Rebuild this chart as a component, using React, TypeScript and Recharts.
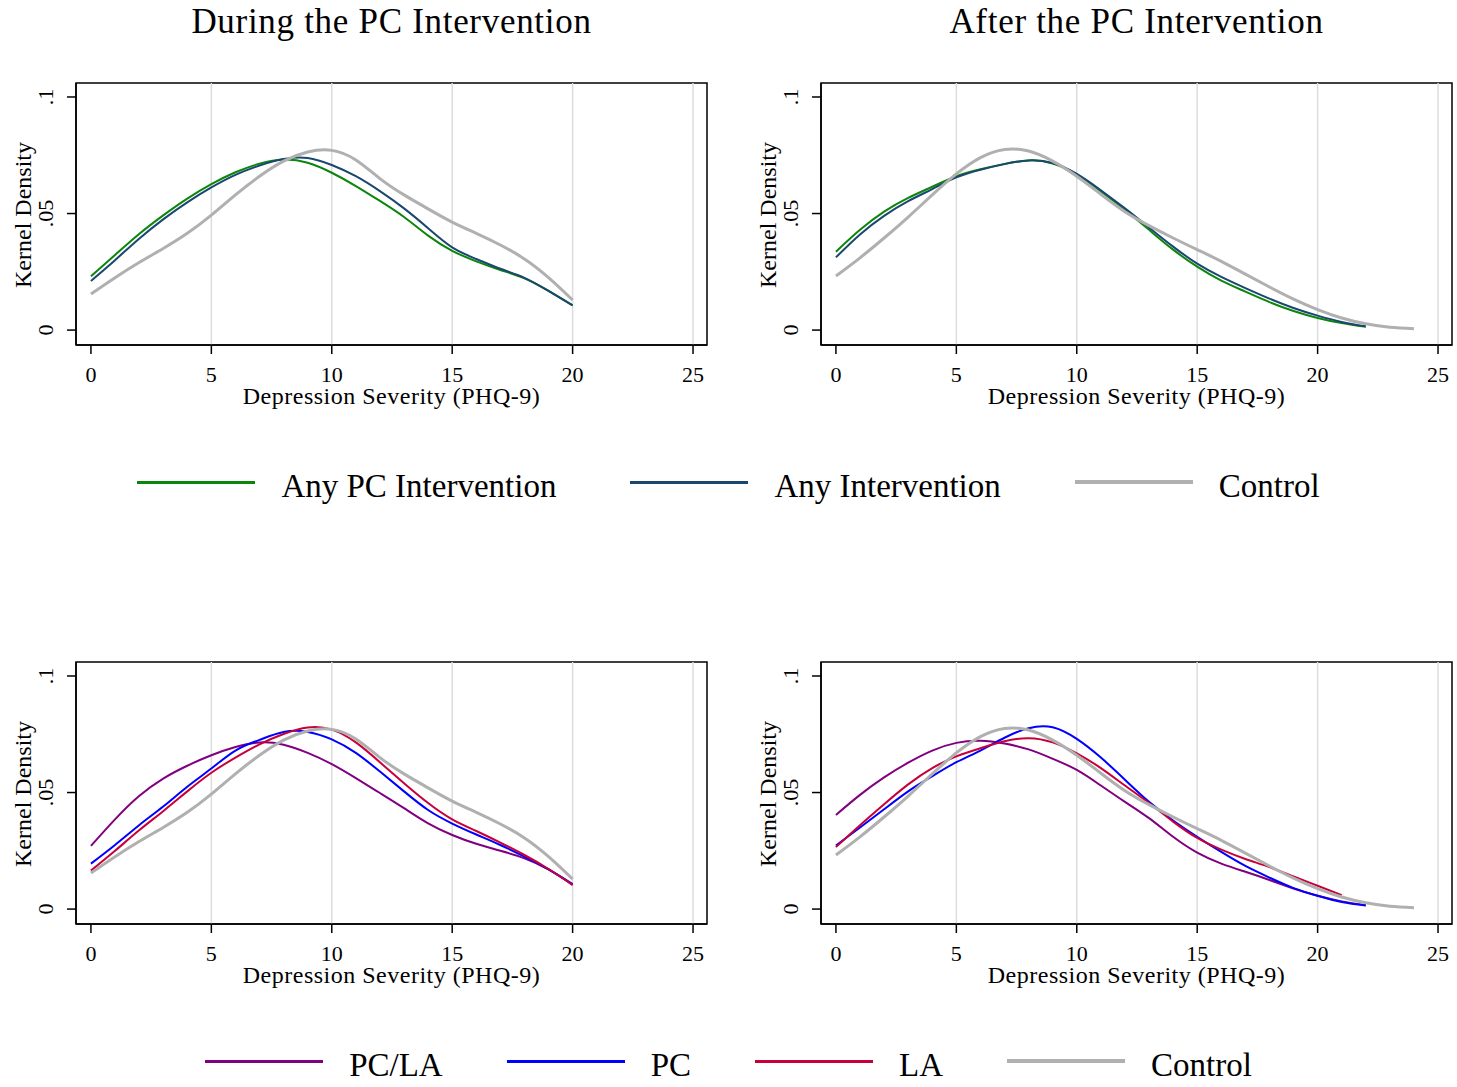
import React from 'react';
import { LineChart, Line, XAxis, YAxis, ReferenceLine, ReferenceArea } from 'recharts';

// PHQ-9 score grid the densities were read on
const severity = [0, 1, 2, 3, 4, 5, 6, 7, 8, 9, 10, 11, 12, 13, 14, 15, 16, 17, 18, 19, 20, 21, 22, 23, 24];

// During the PC intervention
const anyPcDuring = [0.0231, 0.0322, 0.0412, 0.0492, 0.0564, 0.0626, 0.0677, 0.0714, 0.0732, 0.0718, 0.0675, 0.0618, 0.0554, 0.0485, 0.0405, 0.034, 0.0295, 0.0258, 0.0222, 0.0168, 0.0106];
const anyDuring = [0.0211, 0.03, 0.0392, 0.0475, 0.0548, 0.0612, 0.0666, 0.0706, 0.0734, 0.0738, 0.0708, 0.066, 0.0596, 0.0522, 0.0437, 0.0355, 0.0305, 0.0263, 0.0224, 0.0168, 0.0106];
const controlDuring = [0.0155, 0.0225, 0.029, 0.035, 0.0415, 0.0493, 0.058, 0.066, 0.0725, 0.0764, 0.0771, 0.073, 0.065, 0.058, 0.052, 0.0463, 0.0415, 0.0365, 0.0305, 0.0225, 0.0129];
const pcLaDuring = [0.0271, 0.0385, 0.0485, 0.056, 0.0615, 0.066, 0.0695, 0.0715, 0.0705, 0.067, 0.0622, 0.0562, 0.0498, 0.0433, 0.0368, 0.0318, 0.028, 0.025, 0.0218, 0.017, 0.0104];
const pcDuring = [0.0195, 0.0275, 0.036, 0.044, 0.0525, 0.0603, 0.068, 0.0726, 0.076, 0.076, 0.0728, 0.067, 0.059, 0.0505, 0.0425, 0.0367, 0.032, 0.0275, 0.0225, 0.017, 0.0107];
const laDuring = [0.0165, 0.025, 0.0338, 0.042, 0.0505, 0.0585, 0.065, 0.0707, 0.0751, 0.0779, 0.077, 0.0715, 0.063, 0.054, 0.0455, 0.0385, 0.0335, 0.0285, 0.0232, 0.0172, 0.0104];

// After the PC intervention
const anyPcAfter = [0.0336, 0.043, 0.0508, 0.0567, 0.0615, 0.066, 0.069, 0.0713, 0.0728, 0.0715, 0.0668, 0.0595, 0.0515, 0.043, 0.0345, 0.0272, 0.0212, 0.0165, 0.012, 0.0082, 0.0052, 0.003, 0.0014];
const anyAfter = [0.0312, 0.041, 0.049, 0.0553, 0.0605, 0.0655, 0.0688, 0.0712, 0.0728, 0.0717, 0.067, 0.06, 0.0522, 0.044, 0.0358, 0.0285, 0.0228, 0.018, 0.0135, 0.0095, 0.0062, 0.0035, 0.0016];
const controlAfter = [0.0232, 0.031, 0.0395, 0.0485, 0.058, 0.067, 0.074, 0.0775, 0.0768, 0.0725, 0.066, 0.0583, 0.0508, 0.0448, 0.0395, 0.0345, 0.0295, 0.024, 0.0185, 0.0133, 0.0088, 0.0052, 0.0027, 0.0012, 0.0006];
const pcLaAfter = [0.0404, 0.049, 0.0565, 0.0628, 0.068, 0.0713, 0.0722, 0.071, 0.0685, 0.0645, 0.0597, 0.053, 0.046, 0.039, 0.031, 0.0242, 0.0195, 0.016, 0.0125, 0.0088, 0.0057, 0.0033, 0.0016];
const pcAfter = [0.0273, 0.035, 0.0428, 0.0505, 0.057, 0.063, 0.068, 0.0735, 0.0776, 0.078, 0.073, 0.065, 0.0555, 0.046, 0.038, 0.031, 0.0245, 0.0185, 0.0135, 0.009, 0.0057, 0.003, 0.0015];
const laAfter = [0.0266, 0.036, 0.045, 0.0535, 0.0605, 0.0655, 0.069, 0.072, 0.0733, 0.0715, 0.0668, 0.0605, 0.053, 0.0455, 0.0375, 0.0305, 0.0255, 0.0215, 0.018, 0.014, 0.01, 0.006];

const xTicks = [0, 5, 10, 15, 20, 25];
const gridTicks = [5, 10, 15, 20, 25];
const yTicks = [0, 0.05, 0.1];
const titles = ['During the PC Intervention', 'After the PC Intervention'];

const FONT = '"Liberation Serif", "Times New Roman", serif';
const X_DOMAIN: [number, number] = [-0.62, 25.58];
const Y_DOMAIN: [number, number] = [-0.0064, 0.106];

const C = {
  anyPc: '#0b860b',
  any: '#1a476f',
  control: '#b0b0b0',
  pcLa: '#800080',
  pc: '#0000ff',
  la: '#c8003a',
};

type Series = { key: string; label: string; values: number[]; color: string; width: number };

const topLegend = [
  { label: 'Any PC Intervention', color: C.anyPc, width: 3 },
  { label: 'Any Intervention', color: C.any, width: 3 },
  { label: 'Control', color: C.control, width: 4 },
];
const bottomLegend = [
  { label: 'PC/LA', color: C.pcLa, width: 3 },
  { label: 'PC', color: C.pc, width: 3 },
  { label: 'LA', color: C.la, width: 3 },
  { label: 'Control', color: C.control, width: 4 },
];

const fmtY = (v: number) => String(v).replace(/^0\./, '.');

const YTick = (props: any) => {
  const { x, y, payload } = props;
  return (
    <text x={x} y={y} transform={`rotate(-90 ${x} ${y})`} textAnchor="middle" fill="#000" fontSize={22} fontFamily={FONT}>
      {fmtY(payload.value)}
    </text>
  );
};

const XLabel = (props: any) => {
  const vb = props.viewBox;
  return (
    <text x={vb.x + vb.width / 2} y={vb.y + 59} textAnchor="middle" fill="#000" fontSize={24} fontFamily={FONT} style={{ letterSpacing: 0.5 }}>
      Depression Severity (PHQ-9)
    </text>
  );
};

const YLabel = (props: any) => {
  const vb = props.viewBox;
  const x = vb.x + 31;
  const y = vb.y + vb.height / 2 + 1;
  return (
    <text x={x} y={y} transform={`rotate(-90 ${x} ${y})`} textAnchor="middle" fill="#000" fontSize={24} fontFamily={FONT}>
      Kernel Density
    </text>
  );
};

function Panel({ left, top, width, marginRight, series }: { left: number; top: number; width: number; marginRight: number; series: Series[] }) {
  const rows = severity.map((x, i) => {
    const row: any = { x };
    series.forEach((s) => {
      if (i < s.values.length) row[s.key] = s.values[i];
    });
    return row;
  });
  return (
    <div style={{ position: 'absolute', left, top }}>
      <LineChart width={width} height={420} data={rows} margin={{ top: 83, right: marginRight, bottom: 13, left: 0 }}>
        <XAxis
          type="number"
          dataKey="x"
          domain={X_DOMAIN}
          ticks={xTicks}
          allowDataOverflow
          height={62}
          tickSize={9}
          tickMargin={12}
          tick={{ fill: '#000', fontSize: 22, fontFamily: FONT }}
          axisLine={{ stroke: '#000', strokeWidth: 1.5 }}
          tickLine={{ stroke: '#000', strokeWidth: 1.5 }}
          label={{ content: XLabel }}
        />
        <YAxis
          type="number"
          domain={Y_DOMAIN}
          ticks={yTicks}
          allowDataOverflow
          width={76}
          tickSize={9}
          tickMargin={14}
          tick={YTick}
          axisLine={{ stroke: '#000', strokeWidth: 1.5 }}
          tickLine={{ stroke: '#000', strokeWidth: 1.5 }}
          label={{ content: YLabel }}
        />
        {gridTicks.map((v) => (
          <ReferenceLine key={v} x={v} stroke="#dcdcdc" strokeWidth={1.5} />
        ))}
        <ReferenceArea x1={X_DOMAIN[0]} x2={X_DOMAIN[1]} y1={Y_DOMAIN[0]} y2={Y_DOMAIN[1]} fill="none" fillOpacity={0} stroke="#000" strokeWidth={1.5} />
        {series.map((s) => (
          <Line key={s.key} dataKey={s.key} name={s.label} type="natural" stroke={s.color} strokeWidth={s.width} dot={false} isAnimationActive={false} />
        ))}
      </LineChart>
    </div>
  );
}

function Legend({ top, gap, items }: { top: number; gap: number; items: { label: string; color: string; width: number }[] }) {
  return (
    <div style={{ position: 'absolute', left: 0, top, width: 1457, display: 'flex', justifyContent: 'center', gap, fontFamily: FONT, fontSize: 33, lineHeight: '40px' }}>
      {items.map((it) => (
        <div key={it.label} style={{ display: 'flex', alignItems: 'center' }}>
          <div style={{ width: 118, height: it.width, background: it.color, position: 'relative', top: -4, marginRight: 26 }} />
          <span>{it.label}</span>
        </div>
      ))}
    </div>
  );
}

export default function App() {
  const topDuring: Series[] = [
    { key: 'anyPc', label: 'Any PC Intervention', values: anyPcDuring, color: C.anyPc, width: 2 },
    { key: 'any', label: 'Any Intervention', values: anyDuring, color: C.any, width: 2 },
    { key: 'control', label: 'Control', values: controlDuring, color: C.control, width: 3 },
  ];
  const topAfter: Series[] = [
    { key: 'anyPc', label: 'Any PC Intervention', values: anyPcAfter, color: C.anyPc, width: 2 },
    { key: 'any', label: 'Any Intervention', values: anyAfter, color: C.any, width: 2 },
    { key: 'control', label: 'Control', values: controlAfter, color: C.control, width: 3 },
  ];
  const bottomDuring: Series[] = [
    { key: 'pcLa', label: 'PC/LA', values: pcLaDuring, color: C.pcLa, width: 2 },
    { key: 'pc', label: 'PC', values: pcDuring, color: C.pc, width: 2 },
    { key: 'la', label: 'LA', values: laDuring, color: C.la, width: 2 },
    { key: 'control', label: 'Control', values: controlDuring, color: C.control, width: 3 },
  ];
  const bottomAfter: Series[] = [
    { key: 'pcLa', label: 'PC/LA', values: pcLaAfter, color: C.pcLa, width: 2 },
    { key: 'pc', label: 'PC', values: pcAfter, color: C.pc, width: 2 },
    { key: 'la', label: 'LA', values: laAfter, color: C.la, width: 2 },
    { key: 'control', label: 'Control', values: controlAfter, color: C.control, width: 3 },
  ];

  return (
    <div style={{ position: 'absolute', left: 0, top: 0, width: 1457, height: 1087, overflow: 'hidden', background: '#fff', fontFamily: FONT, color: '#000' }}>
      {titles.map((t, i) => (
        <div key={t} style={{ position: 'absolute', left: (i === 0 ? 391.5 : 1136.5) - 300, top: 4, width: 600, textAlign: 'center', fontSize: 35, lineHeight: '35px', letterSpacing: 0.7 }}>
          {t}
        </div>
      ))}
      <Panel left={0} top={0} width={720} marginRight={13} series={topDuring} />
      <Panel left={745} top={0} width={712} marginRight={5} series={topAfter} />
      <Legend top={466} gap={74} items={topLegend} />
      <Panel left={0} top={579} width={720} marginRight={13} series={bottomDuring} />
      <Panel left={745} top={579} width={712} marginRight={5} series={bottomAfter} />
      <Legend top={1045} gap={64} items={bottomLegend} />
    </div>
  );
}
